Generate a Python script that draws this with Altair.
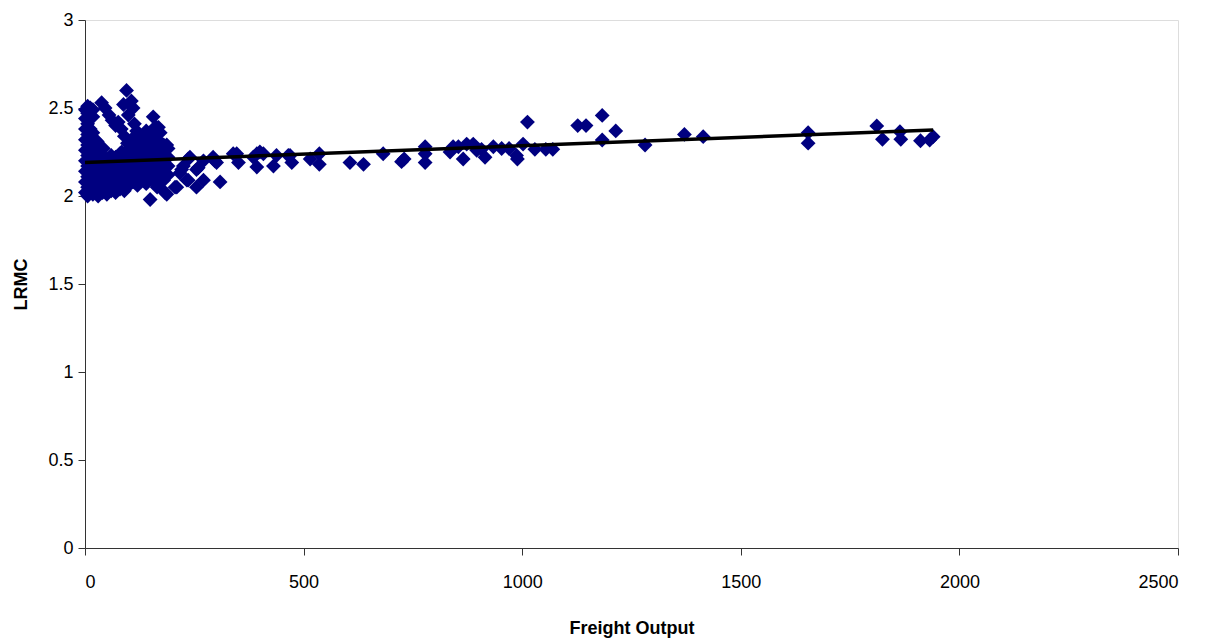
import altair as alt
import pandas as pd

# ---- data ----
band_pts = [
    (1, 2.02), (1, 2.08), (1, 2.14), (1, 2.20), (1, 2.26), (1, 2.32), (1, 2.38), (1, 2.44), (1, 2.49),
    (6, 2.00), (6, 2.05), (6, 2.11), (6, 2.17), (6, 2.23), (6, 2.29), (6, 2.35), (6, 2.41), (6, 2.47), (6, 2.51),
    (12, 2.02), (12, 2.08), (12, 2.14), (12, 2.20), (12, 2.26), (12, 2.32), (12, 2.38), (12, 2.44), (12, 2.50),
    (18, 2.01), (18, 2.06), (18, 2.12), (18, 2.18), (18, 2.24), (18, 2.30), (18, 2.36), (18, 2.45), (18, 2.49),
    (24, 2.03), (24, 2.09), (24, 2.15), (24, 2.21), (24, 2.27), (23, 2.32), (28, 2.31),
]
chain_pts = [
    (38, 2.53), (46, 2.50), (55, 2.46), (62, 2.43), (70, 2.40), (76, 2.42), (83, 2.38),
    (90, 2.34), (97, 2.30), (104, 2.27), (42, 2.27), (84, 2.25),
    (95, 2.60), (88, 2.52), (106, 2.54), (110, 2.50), (99, 2.46), (113, 2.41), (118, 2.37),
]
block_pts = [
    (30, 2.00), (30, 2.05), (30, 2.10), (30, 2.15), (30, 2.20), (30, 2.25),
    (40, 2.02), (40, 2.07), (40, 2.12), (40, 2.17), (40, 2.22),
    (50, 2.01), (50, 2.06), (50, 2.11), (50, 2.16), (50, 2.21),
    (60, 2.03), (60, 2.08), (60, 2.13), (60, 2.18), (60, 2.23),
    (70, 2.02), (70, 2.07), (70, 2.12), (70, 2.17), (70, 2.22),
    (80, 2.04), (80, 2.09), (80, 2.14), (80, 2.19), (80, 2.24),
    (90, 2.03), (90, 2.08), (90, 2.13), (90, 2.18), (90, 2.23),
    (100, 2.06), (100, 2.11), (100, 2.16), (100, 2.21), (100, 2.26),
]
mass_pts = [
    (110, 2.08), (110, 2.13), (110, 2.18), (110, 2.23), (110, 2.28), (110, 2.33),
    (120, 2.06), (120, 2.11), (120, 2.16), (120, 2.21), (120, 2.26), (120, 2.31),
    (130, 2.09), (130, 2.14), (130, 2.19), (130, 2.24), (130, 2.29), (130, 2.34),
    (140, 2.07), (140, 2.12), (140, 2.17), (140, 2.22), (140, 2.27), (140, 2.32), (140, 2.37),
    (150, 2.10), (150, 2.15), (150, 2.20), (150, 2.25), (150, 2.30), (150, 2.35),
    (160, 2.08), (160, 2.13), (160, 2.18), (160, 2.23), (160, 2.28), (160, 2.33), (160, 2.39),
    (170, 2.11), (170, 2.16), (170, 2.21), (170, 2.26), (170, 2.31), (170, 2.36),
    (180, 2.09), (180, 2.14), (180, 2.19), (180, 2.24), (180, 2.29),
    (190, 2.12), (190, 2.17), (190, 2.22), (190, 2.27),
]
fringe_pts = [
    (149, 1.98), (183, 2.02), (187, 2.01), (206, 2.05), (210, 2.05), (217, 2.13), (221, 2.15),
    (225, 2.17), (233, 2.09), (236, 2.09), (240, 2.22), (236, 2.21), (255, 2.15), (259, 2.16),
    (255, 2.05), (271, 2.09), (271, 2.20), (293, 2.22), (297, 2.20), (301, 2.19), (309, 2.08),
    (156, 2.45), (164, 2.39), (168, 2.39), (172, 2.36), (187, 2.29), (165, 2.05),
    (339, 2.24), (347, 2.24), (351, 2.19), (385, 2.22), (393, 2.24), (393, 2.165), (400, 2.25),
    (408, 2.24), (431, 2.17), (438, 2.23), (465, 2.23), (469, 2.23), (473, 2.19),
]
sparse_pts = [
    (515, 2.21), (536, 2.24), (536, 2.18), (606, 2.19), (637, 2.18), (682, 2.24),
    (724, 2.195), (730, 2.21), (778, 2.28), (778, 2.24), (778, 2.19), (835, 2.25),
    (842, 2.28), (854, 2.28), (865, 2.21), (873, 2.295), (888, 2.295), (896, 2.26),
    (907, 2.265), (915, 2.22), (934, 2.28), (953, 2.27), (970, 2.27), (987, 2.23),
    (989, 2.21), (1002, 2.295), (1012, 2.42), (1029, 2.265), (1054, 2.265), (1070, 2.265),
    (1127, 2.40), (1146, 2.40), (1183, 2.458), (1183, 2.318), (1214, 2.37), (1281, 2.29),
    (1371, 2.35), (1414, 2.337), (1654, 2.36), (1654, 2.30), (1811, 2.398), (1824, 2.322),
    (1864, 2.365), (1866, 2.322), (1911, 2.314), (1932, 2.318), (1940, 2.337),
]
trend_x = [0, 1940]
trend_y = [2.19, 2.375]

x_ticks = [0, 500, 1000, 1500, 2000, 2500]
y_ticks = [0, 0.5, 1, 1.5, 2, 2.5, 3]

pts = band_pts + chain_pts + block_pts + mass_pts + fringe_pts + sparse_pts
df = pd.DataFrame(pts, columns=["x", "y"])
trend = pd.DataFrame({"x": trend_x, "y": trend_y})

FONT = "Liberation Sans"

x_enc = alt.X(
    "x:Q",
    scale=alt.Scale(domain=[0, 2500], nice=False),
    axis=alt.Axis(
        values=x_ticks, title="Freight Output", grid=False, tickSize=7, format="d",
        labelPadding=18, labelFontSize=18, labelFont=FONT, labelColor="black",
        titleFont=FONT, titleFontSize=18, titleFontWeight="bold", titleColor="black",
        titleBaseline="top", titleY=71, domainColor="#333", tickColor="#333",
    ),
)
y_enc = alt.Y(
    "y:Q",
    scale=alt.Scale(domain=[0, 3], nice=False),
    axis=alt.Axis(
        values=y_ticks, title="LRMC", grid=False, tickSize=7, format="~g",
        labelPadding=5, labelFontSize=18, labelFont=FONT, labelColor="black",
        titleFont=FONT, titleFontSize=18, titleFontWeight="bold", titleColor="black",
        titleX=-64, titleY=264, titleAngle=-90, titleAlign="center", titleBaseline="middle",
        domainColor="#333", tickColor="#333",
    ),
)

scatter = alt.Chart(df).mark_point(
    shape="diamond", filled=True, size=220, color="#000080", opacity=1
).encode(x=x_enc, y=y_enc)

line = alt.Chart(trend).mark_line(color="black", strokeWidth=3.5).encode(x="x:Q", y="y:Q")

chart = (
    alt.layer(scatter, line)
    .properties(
        width=1093, height=528,
        autosize=alt.AutoSizeParams(type="none"),
        padding={"left": 77, "top": 12, "right": 26, "bottom": 94},
    )
    .configure_view(stroke=None)
    .configure(background="white")
)

chart.save("out.html", embed_options={"renderer": "svg", "actions": False})
